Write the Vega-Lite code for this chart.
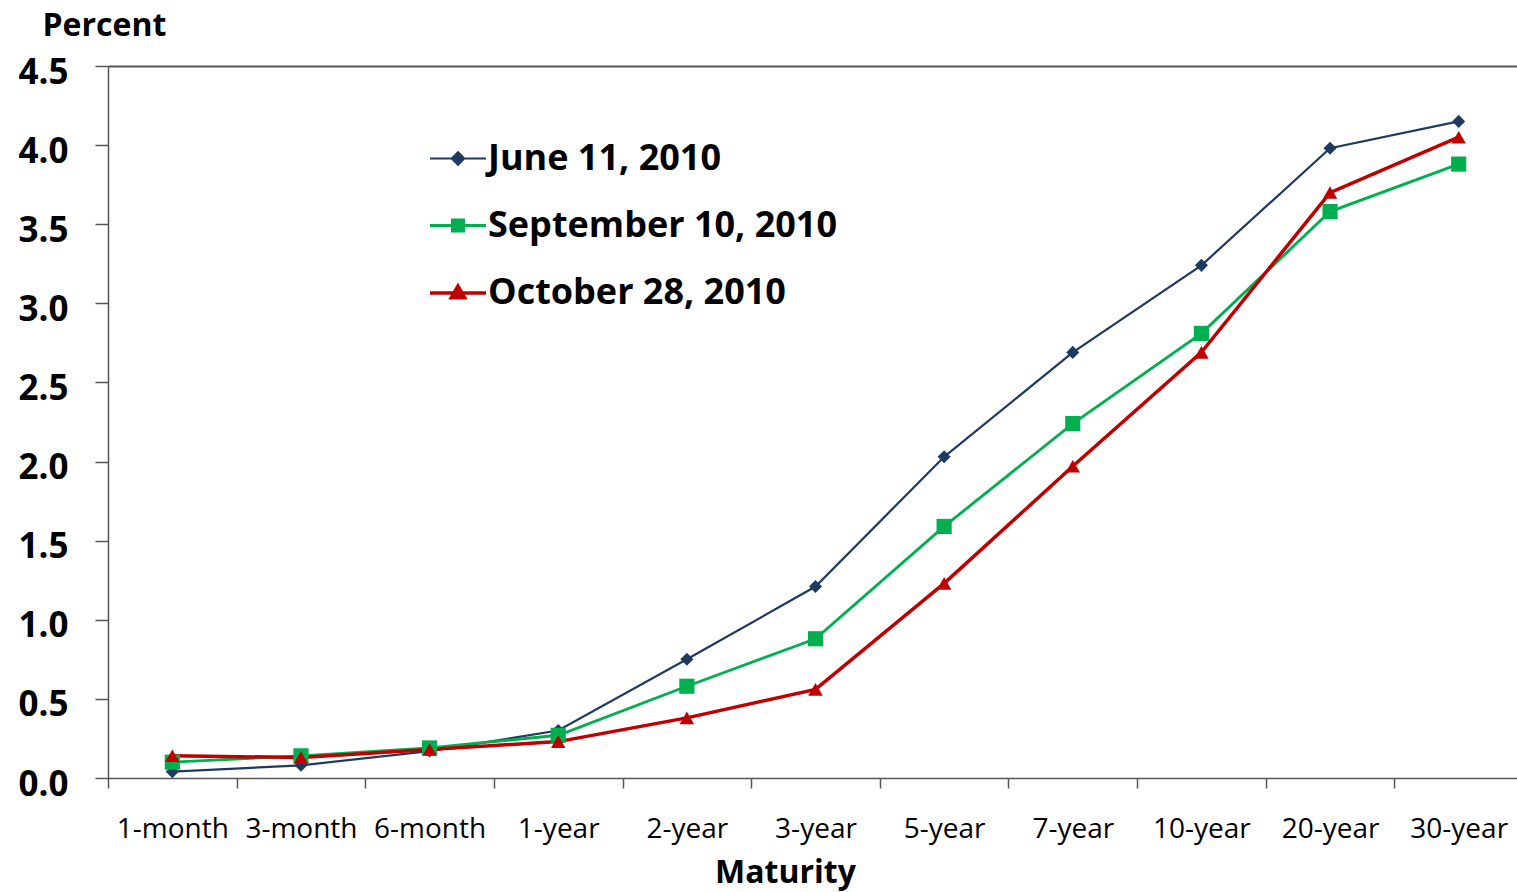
{
  "$schema": "https://vega.github.io/schema/vega-lite/v6.json",
  "autosize": {"type": "none"},
  "padding": {"left": 108, "top": 66, "right": 0, "bottom": 114},
  "width": 1409,
  "height": 712,
  "background": "white",
  "config": {
    "view": {"stroke": null},
    "font": "Open Sans"
  },
  "data": {
    "values": [
      {"maturity": "1-month", "series": "June 11, 2010", "value": 0.04},
      {"maturity": "3-month", "series": "June 11, 2010", "value": 0.08},
      {"maturity": "6-month", "series": "June 11, 2010", "value": 0.17},
      {"maturity": "1-year", "series": "June 11, 2010", "value": 0.30},
      {"maturity": "2-year", "series": "June 11, 2010", "value": 0.75},
      {"maturity": "3-year", "series": "June 11, 2010", "value": 1.21},
      {"maturity": "5-year", "series": "June 11, 2010", "value": 2.03},
      {"maturity": "7-year", "series": "June 11, 2010", "value": 2.69},
      {"maturity": "10-year", "series": "June 11, 2010", "value": 3.24},
      {"maturity": "20-year", "series": "June 11, 2010", "value": 3.98},
      {"maturity": "30-year", "series": "June 11, 2010", "value": 4.15},
      {"maturity": "1-month", "series": "September 10, 2010", "value": 0.10},
      {"maturity": "3-month", "series": "September 10, 2010", "value": 0.14},
      {"maturity": "6-month", "series": "September 10, 2010", "value": 0.19},
      {"maturity": "1-year", "series": "September 10, 2010", "value": 0.27},
      {"maturity": "2-year", "series": "September 10, 2010", "value": 0.58},
      {"maturity": "3-year", "series": "September 10, 2010", "value": 0.88},
      {"maturity": "5-year", "series": "September 10, 2010", "value": 1.59},
      {"maturity": "7-year", "series": "September 10, 2010", "value": 2.24},
      {"maturity": "10-year", "series": "September 10, 2010", "value": 2.81},
      {"maturity": "20-year", "series": "September 10, 2010", "value": 3.58},
      {"maturity": "30-year", "series": "September 10, 2010", "value": 3.88},
      {"maturity": "1-month", "series": "October 28, 2010", "value": 0.14},
      {"maturity": "3-month", "series": "October 28, 2010", "value": 0.13},
      {"maturity": "6-month", "series": "October 28, 2010", "value": 0.18},
      {"maturity": "1-year", "series": "October 28, 2010", "value": 0.23},
      {"maturity": "2-year", "series": "October 28, 2010", "value": 0.38},
      {"maturity": "3-year", "series": "October 28, 2010", "value": 0.56},
      {"maturity": "5-year", "series": "October 28, 2010", "value": 1.23},
      {"maturity": "7-year", "series": "October 28, 2010", "value": 1.97},
      {"maturity": "10-year", "series": "October 28, 2010", "value": 2.69},
      {"maturity": "20-year", "series": "October 28, 2010", "value": 3.70},
      {"maturity": "30-year", "series": "October 28, 2010", "value": 4.05}
    ]
  },
  "encoding": {
    "x": {
      "field": "maturity",
      "type": "ordinal",
      "sort": ["1-month", "3-month", "6-month", "1-year", "2-year", "3-year", "5-year", "7-year", "10-year", "20-year", "30-year"],
      "scale": {"type": "band", "paddingInner": 0, "paddingOuter": 0, "range": [0, 1415]},
      "axis": {
        "title": "Maturity",
        "titleFontSize": 32,
        "titleFontWeight": "bold",
        "titleColor": "black",
        "titleX": 677,
        "titlePadding": 14,
        "labelAngle": 0,
        "labelFontSize": 28,
        "labelColor": "black",
        "labelPadding": 27,
        "labelOverlap": false,
        "labelBaseline": "top",
        "tickBand": "extent",
        "tickSize": 10,
        "tickColor": "#555",
        "tickWidth": 1.5,
        "domainColor": "#555",
        "domainWidth": 1.5
      }
    },
    "y": {
      "field": "value",
      "type": "quantitative",
      "scale": {"domain": [0, 4.5], "nice": false},
      "axis": {
        "values": [0, 0.5, 1, 1.5, 2, 2.5, 3, 3.5, 4, 4.5],
        "format": ".1f",
        "title": "Percent",
        "titleAngle": 0,
        "titleAlign": "left",
        "titleBaseline": "middle",
        "titleX": -66,
        "titleY": -41,
        "titleFontSize": 32,
        "titleFontWeight": "bold",
        "titleColor": "black",
        "labelFontSize": 35,
        "labelFontWeight": "bold",
        "labelColor": "black",
        "labelPadding": 27,
        "labelOffset": 6,
        "tickSize": 13,
        "tickColor": "#555",
        "tickWidth": 1.5,
        "domainColor": "#555",
        "domainWidth": 1.5,
        "grid": true,
        "gridColor": {"condition": {"test": "datum.value == 4.5", "value": "#555"}, "value": "transparent"},
        "gridWidth": 2
      }
    }
  },
  "layer": [
    {
      "mark": {"type": "line"},
      "encoding": {
        "color": {
          "field": "series",
          "type": "nominal",
          "sort": ["June 11, 2010", "September 10, 2010", "October 28, 2010"],
          "scale": {"domain": ["June 11, 2010", "September 10, 2010", "October 28, 2010"], "range": ["#1F3A60", "#00B050", "#C00000"]},
          "legend": {
            "title": null,
            "orient": "none",
            "legendX": 320,
            "legendY": 63,
            "padding": 0,
            "symbolSize": 3136,
            "symbolStrokeWidth": 2.5,
            "labelFontSize": 36,
            "labelFont": "Open Sans",
            "labelFontWeight": "bold",
            "labelColor": "black",
            "labelOffset": 0,
            "rowPadding": 19,
            "labelLimit": 600,
            "encode": {
              "symbols": {
                "update": {
                  "shape": {"signal": "datum.value === 'June 11, 2010' ? 'M-1,0H1M0,-0.22L0.22,0L0,0.22L-0.22,0Z' : datum.value === 'September 10, 2010' ? 'M-1,0H1M-0.2,-0.2H0.2V0.2H-0.2Z' : 'M-1,0H1M0,-0.25L0.24,0.17H-0.24Z'"},
                  "fill": {"signal": "scale('color', datum.value)"},
                  "stroke": {"signal": "scale('color', datum.value)"},
                  "strokeWidth": {"signal": "datum.value === 'June 11, 2010' ? 2 : 3"}
                }
              }
            }
          }
        },
        "strokeWidth": {
          "field": "series",
          "type": "nominal",
          "scale": {"domain": ["June 11, 2010", "September 10, 2010", "October 28, 2010"], "range": [2.2, 3.5, 3]},
          "legend": null
        }
      }
    },
    {
      "transform": [{"filter": "datum.series === 'June 11, 2010'"}],
      "mark": {"type": "point", "filled": true, "opacity": 1, "shape": "diamond", "size": 170, "color": "#1F3A60"},
      "encoding": {}
    },
    {
      "transform": [{"filter": "datum.series === 'September 10, 2010'"}],
      "mark": {"type": "point", "filled": true, "opacity": 1, "shape": "square", "size": 230, "color": "#00B050"},
      "encoding": {}
    },
    {
      "transform": [{"filter": "datum.series === 'October 28, 2010'"}],
      "mark": {"type": "point", "filled": true, "opacity": 1, "shape": "triangle-up", "size": 210, "color": "#C00000"},
      "encoding": {}
    }
  ]
}
